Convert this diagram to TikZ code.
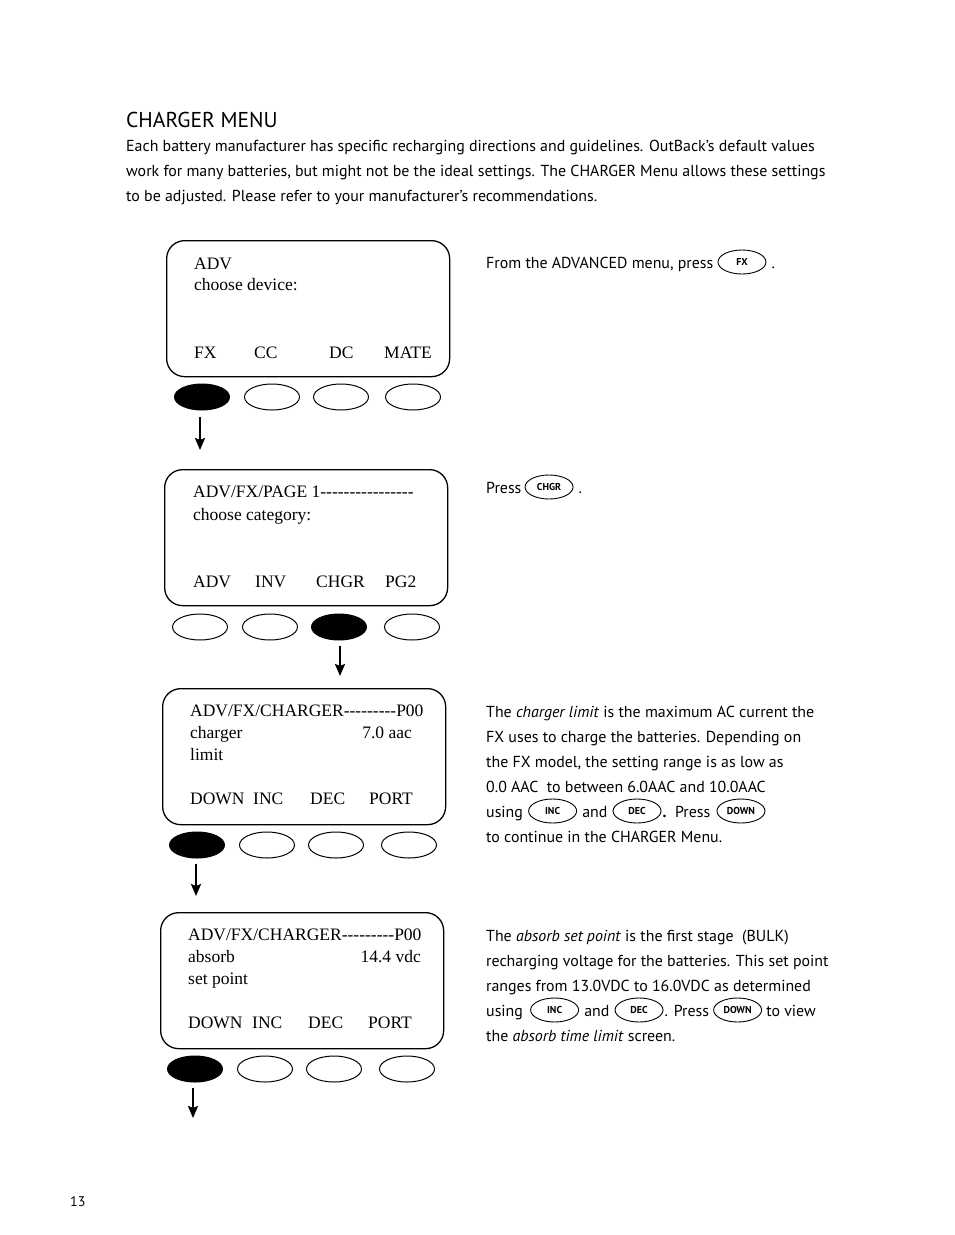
\documentclass[tikz,border=0pt]{standalone}
\usepackage{fontspec}
\setmainfont{Liberation Serif}[Ligatures=TeXOff]
\newfontfamily\bodyfont{PT Sans}
\usetikzlibrary{positioning,shapes.geometric,arrows.meta}

\begin{document}
\begin{tikzpicture}[x=1pt, y=-1pt,
  screen/.style={draw, line width=1.3pt, rounded corners=18pt, anchor=north west,
    minimum width=283pt, minimum height=136pt, inner sep=0pt},
  lcd/.style={font=\fontsize{17.5}{17.5}\selectfont, anchor=base west, inner sep=0pt},
  lcdr/.style={lcd, anchor=base east},
  key/.style={draw, ellipse, line width=1pt, minimum width=55pt, minimum height=26pt, inner sep=0pt},
  pressed/.style={key, fill=black},
  txt/.style={font=\bodyfont\fontsize{15.9}{15.9}\selectfont, anchor=base west,
    inner sep=0pt, text height=12pt, text depth=0pt},
  pill/.style={draw, ellipse, line width=0.9pt, minimum width=48pt, minimum height=24pt,
    inner sep=0pt, font=\bodyfont\bfseries\fontsize{10}{10}\selectfont},
  arr/.style={-{Stealth[length=12pt,width=10pt,inset=2pt]}, line width=2.2pt},
]
\useasboundingbox (0,0) rectangle (954,1235);

% Heading and intro
\node (title) [txt, font=\bodyfont\fontsize{21.5}{21.5}\selectfont] at (126,127) {CHARGER MENU};
\node (intro1) [txt] at (126,151) {Each battery manufacturer has specific recharging directions and guidelines. OutBack’s default values};
\node (intro2) [txt] at (126,176) {work for many batteries, but might not be the ideal settings. The CHARGER Menu allows these settings};
\node (intro3) [txt] at (126,201) {to be adjusted. Please refer to your manufacturer’s recommendations.};

% Screen 1: ADV
\node (scr1) [screen] at (166,240) {};
\node (adv) [lcd] at (194,269) {ADV};
\node (device) [lcd] at (194,290) {choose device:};
\node (fxlbl) [lcd] at (194,358) {FX};
\node (cclbl) [lcd] at (254,358) {CC};
\node (dclbl) [lcd] at (329,358) {DC};
\node (matelbl) [lcd] at (384,358) {MATE};
\node (fx) [pressed] at (202,397) {};
\node (cc) [key] at (272,397) {};
\node (dc) [key] at (341,397) {};
\node (mate) [key] at (413,397) {};
\coordinate (a1) at (200,450);
\draw[arr] ([yshift=-6pt]fx.south -| a1) -- (a1);

\node (from) [txt] at (486,268) {From the ADVANCED menu, press};
\node (fxpill) [pill, right=4pt of from.east] {FX};
\node (dot1) [txt, right=5pt of fxpill.east] {.};

% Screen 2: ADV/FX/PAGE 1
\node (scr2) [screen] at (164,469) {};
\node (page1) [lcd] at (193,497) {ADV/FX/PAGE 1----------------};
\node (category) [lcd] at (193,520) {choose category:};
\node (advlbl) [lcd] at (193,587) {ADV};
\node (invlbl) [lcd] at (255,587) {INV};
\node (chgrlbl) [lcd] at (316,587) {CHGR};
\node (pg2lbl) [lcd] at (385,587) {PG2};
\node (advkey) [key] at (200,627) {};
\node (inv) [key] at (270,627) {};
\node (chgr) [pressed] at (339,627) {};
\node (pg2) [key] at (412,627) {};
\coordinate (a2) at (340,676);
\draw[arr] ([yshift=-5pt]chgr.south -| a2) -- (a2);

\node (press2) [txt] at (486,493) {Press};
\node (chgrpill) [pill, right=3pt of press2.east] {CHGR};
\node (dot2) [txt, right=5pt of chgrpill.east] {.};

% Screen 3: charger limit
\node (scr3) [screen] at (162,688) {};
\node (chg1) [lcd] at (190,716) {ADV/FX/CHARGER---------P00};
\node (limit1) [lcd] at (190,738) {charger};
\node (aac) [lcdr] at (412,738) {7.0 aac};
\node (limit2) [lcd] at (190,760) {limit};
\node (downlbl1) [lcd] at (190,804) {DOWN};
\node (inclbl1) [lcd] at (253,804) {INC};
\node (declbl1) [lcd] at (310,804) {DEC};
\node (portlbl1) [lcd] at (369,804) {PORT};
\node (down1) [pressed] at (197,845) {};
\node (inc1) [key] at (267,845) {};
\node (dec1) [key] at (336,845) {};
\node (port1) [key] at (409,845) {};
\coordinate (a3) at (196,896);
\draw[arr] ([yshift=-5pt]down1.south -| a3) -- (a3);

\node (lim1) [txt] at (486,717) {The \textit{charger limit} is the maximum AC current the};
\node (lim2) [txt] at (486,742) {FX uses to charge the batteries. Depending on};
\node (lim3) [txt] at (486,767) {the FX model, the setting range is as low as};
\node (lim4) [txt] at (486,792) {0.0 AAC\ \ to between 6.0AAC and 10.0AAC};
\node (lim5) [txt] at (486,817) {using};
\node (incp1) [pill, right=5pt of lim5.east] {INC};
\node (and1) [txt, right=5pt of incp1.east] {and};
\node (decp1) [pill, right=5pt of and1.east] {DEC};
\node (press3) [txt, right=1pt of decp1.east] {\textbf{.}\ \ Press};
\node (downp1) [pill, right=6pt of press3.east] {DOWN};
\node (lim6) [txt] at (486,842) {to continue in the CHARGER Menu.};

% Screen 4: absorb set point
\node (scr4) [screen] at (160,912) {};
\node (chg2) [lcd] at (188,940) {ADV/FX/CHARGER---------P00};
\node (absorb1) [lcd] at (188,962) {absorb};
\node (vdc) [lcdr] at (421,962) {14.4 vdc};
\node (absorb2) [lcd] at (188,984) {set point};
\node (downlbl2) [lcd] at (188,1028) {DOWN};
\node (inclbl2) [lcd] at (252,1028) {INC};
\node (declbl2) [lcd] at (308,1028) {DEC};
\node (portlbl2) [lcd] at (368,1028) {PORT};
\node (down2) [pressed] at (195,1069) {};
\node (inc2) [key] at (265,1069) {};
\node (dec2) [key] at (334,1069) {};
\node (port2) [key] at (407,1069) {};
\coordinate (a4) at (193,1118);
\draw[arr] ([yshift=-5pt]down2.south -| a4) -- (a4);

\node (abs1) [txt] at (486,941) {The \textit{absorb set point} is the first stage\ \ (BULK)};
\node (abs2) [txt] at (486,966) {recharging voltage for the batteries. This set point};
\node (abs3) [txt] at (486,991) {ranges from 13.0VDC to 16.0VDC as determined};
\node (abs4) [txt] at (486,1016) {using};
\node (incp2) [pill, right=7pt of abs4.east] {INC};
\node (and2) [txt, right=5pt of incp2.east] {and};
\node (decp2) [pill, right=5pt of and2.east] {DEC};
\node (press4) [txt, right=1pt of decp2.east] {. Press};
\node (downp2) [pill, right=4pt of press4.east] {DOWN};
\node (view) [txt, right=4pt of downp2.east] {to view};
\node (abs5) [txt] at (486,1041) {the \textit{absorb time limit} screen.};

% Page number
\node (pagenum) [txt, font=\bodyfont\fontsize{14}{14}\selectfont] at (70,1206) {13};
\end{tikzpicture}
\end{document}
